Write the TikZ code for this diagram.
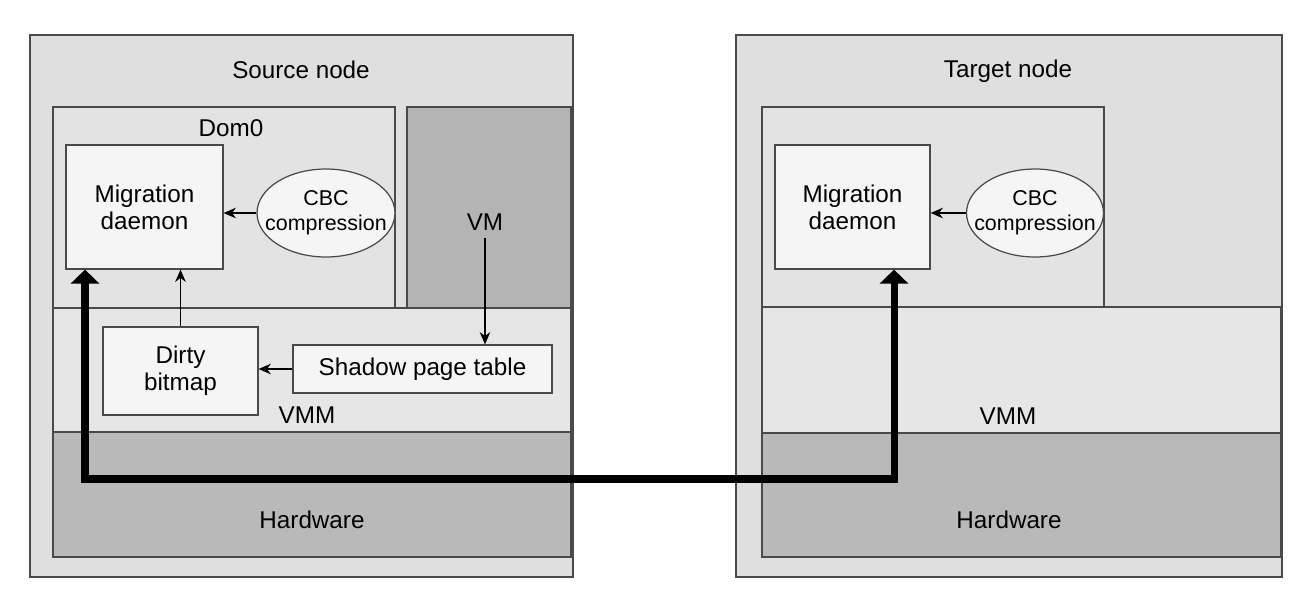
\documentclass[tikz,border=0pt]{standalone}
\usepackage{fontspec}
\setmainfont{Liberation Sans}
\usetikzlibrary{shapes.geometric,arrows.meta}
\definecolor{nodegray}{HTML}{DFDFDF}
\definecolor{domgray}{HTML}{E3E3E3}
\definecolor{vmmgray}{HTML}{E6E6E6}
\definecolor{vmgray}{HTML}{B4B4B4}
\definecolor{hwgray}{HTML}{B9B9B9}
\definecolor{boxwhite}{HTML}{F5F5F5}
\definecolor{edgegray}{HTML}{4A4A4A}
\tikzstyle{layer}=[rectangle,draw=edgegray,line width=0.7pt,
                   inner sep=0pt]
\tikzstyle{whitebox}=[rectangle,draw=edgegray,fill=boxwhite,line width=0.7pt,
                      inner sep=0pt,align=center]
\tikzstyle{cbc}=[ellipse,draw=edgegray,fill=boxwhite,line width=0.7pt,
                 inner xsep=-8pt,inner ysep=0pt,align=center,
                 font=\fontsize{12.2}{14}\selectfont]
\tikzstyle{lbl}=[inner sep=0pt,align=center]
\tikzstyle{thinarrow}=[-{Stealth[length=7pt,width=6pt]},line width=0.8pt]
\tikzstyle{bigarrow}=[{Triangle[width=16pt,length=8pt]}-{Triangle[width=16pt,length=8pt]},
                      line width=4pt]

\begin{document}
\begin{tikzpicture}[x=0.02cm,y=-0.02cm,font=\fontsize{13.8}{15.4}\selectfont]
    \useasboundingbox (0,0) rectangle (1314,606);
    % source node
    \node (src) at (301.5,306) [layer,fill=nodegray,line width=1pt,
          minimum width=10.86cm,minimum height=10.84cm]{};
    \node (sdom) at (224,207.5) [layer,fill=domgray,minimum width=6.84cm,minimum height=4.02cm]{};
    \node (svm) at (489,207.5) [layer,fill=vmgray,minimum width=3.28cm,minimum height=4.02cm]{};
    \node (svmm) at (312,370) [layer,fill=vmmgray,minimum width=10.36cm,minimum height=2.48cm]{};
    \node (shw) at (312,494.5) [layer,fill=hwgray,minimum width=10.36cm,minimum height=2.5cm]{};
    \node (sdaemon) at (144.5,207) [whitebox,minimum width=3.14cm,minimum height=2.48cm]{Migration\\daemon};
    \node (scbc) at (326,213) [cbc,minimum width=2.76cm,minimum height=1.76cm]{CBC\\compression};
    \node (dirty) at (180.5,371) [whitebox,minimum width=3.1cm,minimum height=1.76cm]{Dirty\\bitmap};
    \node (shadow) at (422.5,369) [whitebox,minimum width=5.18cm,minimum height=0.96cm]{Shadow page table};
    \node (srclbl) at (301,70) [lbl]{Source node};
    \node (domlbl) at (231,128) [lbl]{Dom0};
    \node (vmlbl) at (485,222) [lbl]{VM};
    \node (svmmlbl) at (307,415) [lbl]{VMM};
    \node (shwlbl) at (312,520) [lbl]{Hardware};
    % target node
    \node (tgt) at (1009,306) [layer,fill=nodegray,line width=1pt,
          minimum width=10.92cm,minimum height=10.84cm]{};
    \node (tdom) at (933,207) [layer,fill=domgray,minimum width=6.84cm,minimum height=4cm]{};
    \node (tvmm) at (1021.5,370) [layer,fill=vmmgray,minimum width=10.38cm,minimum height=2.52cm]{};
    \node (thw) at (1021.5,495) [layer,fill=hwgray,minimum width=10.38cm,minimum height=2.48cm]{};
    \node (tdaemon) at (852.5,207) [whitebox,minimum width=3.1cm,minimum height=2.48cm]{Migration\\daemon};
    \node (tcbc) at (1035,213) [cbc,minimum width=2.74cm,minimum height=1.76cm]{CBC\\compression};
    \node (tgtlbl) at (1008,71) [lbl]{Target node};
    \node (tvmmlbl) at (1008,416) [lbl]{VMM};
    \node (thwlbl) at (1009,520) [lbl]{Hardware};
    % arrows
    \draw[thinarrow] (scbc.west) -- (scbc.west -| sdaemon.east);
    \draw[thinarrow] (dirty.north) -- (dirty.north |- sdaemon.south);
    \draw[thinarrow] (vmlbl.south) ++(0,7) -- (vmlbl.south |- shadow.north);
    \draw[thinarrow] (shadow.west) -- (shadow.west -| dirty.east);
    \draw[thinarrow] (tcbc.west) -- (tcbc.west -| tdaemon.east);
    \coordinate (lbend) at (85,479);
    \coordinate (rbend) at (894,479);
    \draw[bigarrow] (sdaemon.south -| lbend) -- (lbend) -- (rbend) -- (tdaemon.south -| rbend);
  \end{tikzpicture}
\end{document}
